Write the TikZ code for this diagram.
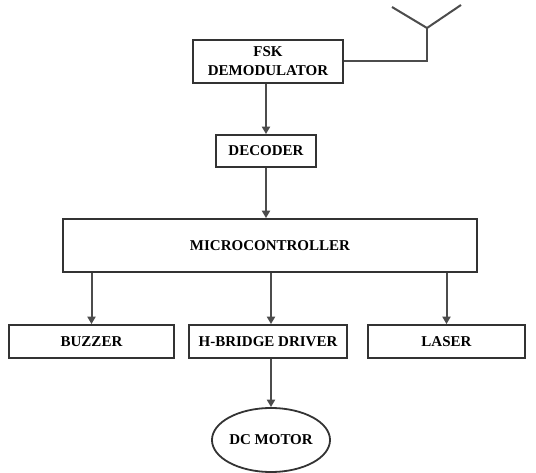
\documentclass[tikz,border=0pt]{standalone}
\usepackage{fontspec}
\setmainfont{Liberation Serif}
\usetikzlibrary{arrows.meta, positioning, shapes.geometric}

\begin{document}
\begin{tikzpicture}[
    x=1pt, y=-1pt,
    every node/.style={font=\fontsize{15}{19}\selectfont\bfseries},
    % Block boxes
    block/.style={draw=black!80, line width=1.8pt, rectangle, align=center,
                  inner sep=0pt},
    % Connecting wires with arrows
    arrow/.style={-{Triangle[length=2.6mm, width=2.8mm]}, line width=2pt, draw=black!70},
    wire/.style={line width=2pt, draw=black!70}
]
\useasboundingbox (0,0) rectangle (536,473);

% === NODES ===

% Receiver chain
\node[block, minimum width=150pt, minimum height=43pt] (fsk) at (268,61.5) {FSK\\DEMODULATOR};
\node[block, minimum width=100pt, minimum height=32pt] (decoder) at (266,151) {DECODER};

% Controller
\node[block, minimum width=414pt, minimum height=53pt] (mcu) at (270,245.5) {MICROCONTROLLER};

% Outputs
\node[block, minimum width=165pt, minimum height=33pt] (buzzer) at (91.5,341.5) {BUZZER};
\node[block, minimum width=158pt, minimum height=33pt] (hbridge) at (268,341.5) {H-BRIDGE DRIVER};
\node[block, minimum width=157pt, minimum height=33pt] (laser) at (446.5,341.5) {LASER};

% Motor
\node[block, ellipse, minimum width=116pt, minimum height=64pt] (motor) at (271,440) {DC MOTOR};

% Antenna
\coordinate (ant) at (427,28);
\coordinate (antL) at (392,7);
\coordinate (antR) at (461,5);

% === CONNECTIONS ===

\draw[wire] (fsk.east) -| (ant);
\draw[wire] (antL) -- (ant) -- (antR);

\draw[arrow] (decoder.north |- fsk.south) -- (decoder.north);
\draw[arrow] (decoder.south) -- (decoder.south |- mcu.north);

\draw[arrow] (buzzer.north |- mcu.south) -- (buzzer.north);
\draw[arrow] (motor.north |- mcu.south) -- (motor.north |- hbridge.north);
\draw[arrow] (laser.north |- mcu.south) -- (laser.north);

\draw[arrow] (motor.north |- hbridge.south) -- (motor.north);

\end{tikzpicture}
\end{document}
